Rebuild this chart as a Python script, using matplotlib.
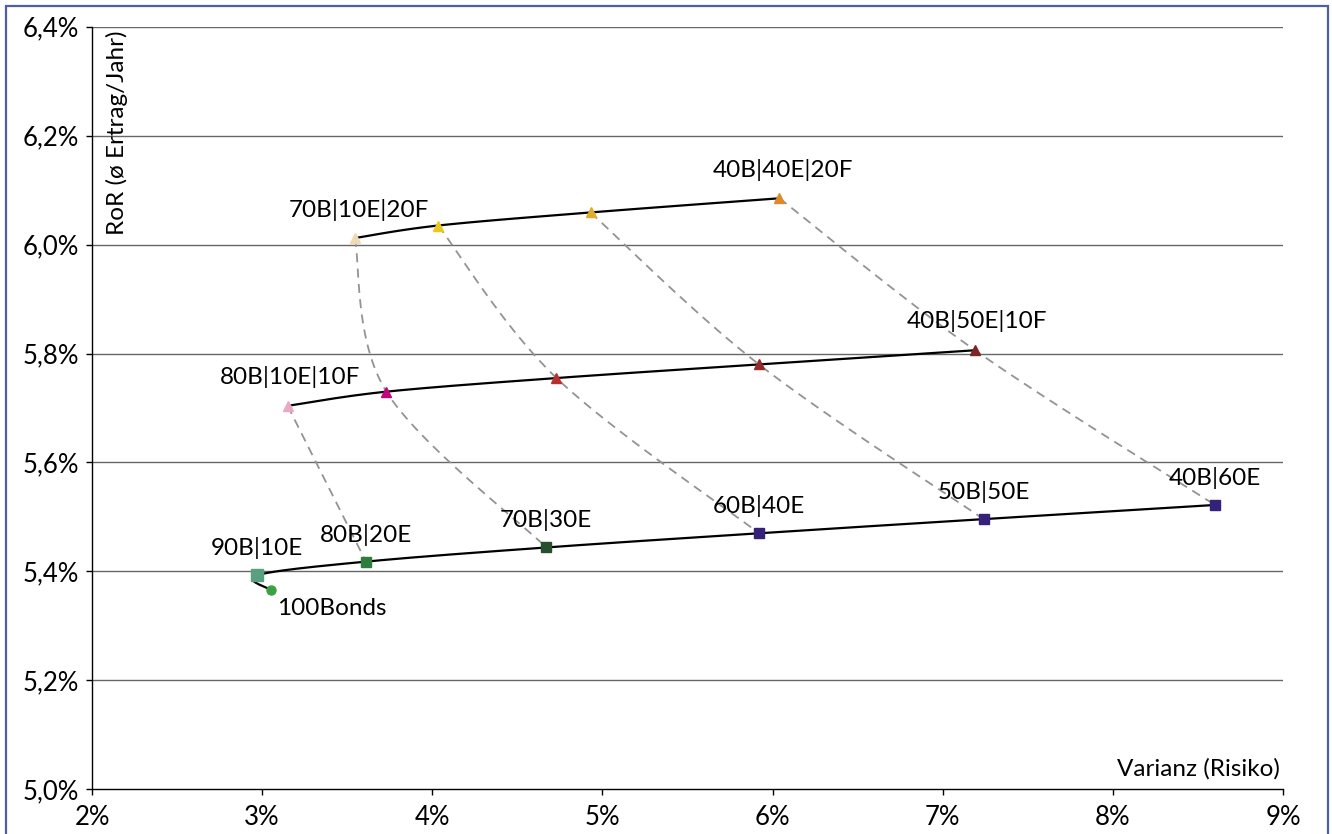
import numpy as np
import matplotlib
matplotlib.use("Agg")
import matplotlib.pyplot as plt
from matplotlib.patches import Rectangle
from matplotlib.ticker import FixedLocator, FuncFormatter

plt.rcParams['font.family'] = ['Lato', 'DejaVu Sans']

# ---- data (x = Varianz %, y = RoR %) ----
bottom_names = ["100Bonds", "90B|10E", "80B|20E", "70B|30E", "60B|40E", "50B|50E", "40B|60E"]
bottom_x = [3.05, 2.97, 3.61, 4.67, 5.92, 7.24, 8.60]
bottom_y = [5.366, 5.393, 5.418, 5.444, 5.470, 5.496, 5.522]
bottom_colors = ["#3da042", "#5aa080", "#2e7d3e", "#264f2c", "#35207a", "#35207a", "#35207a"]

mid_names = ["80B|10E|10F", "", "", "", "40B|50E|10F"]
mid_x = [3.15, 3.73, 4.73, 5.92, 7.19]
mid_y = [5.704, 5.730, 5.755, 5.780, 5.806]
mid_colors = ["#e8a9c4", "#c0047e", "#b8302c", "#962b2b", "#7e2424"]

top_names = ["70B|10E|20F", "", "", "40B|40E|20F"]
top_x = [3.545, 4.035, 4.93, 6.04]
top_y = [6.012, 6.035, 6.059, 6.085]
top_colors = ["#f0d9b5", "#ecc81c", "#e2ac2a", "#dc8a2c"]

# dashed connectors: (top idx or None, mid idx, bottom idx)
connectors = [(None, 0, 2), (0, 1, 3), (1, 2, 4), (2, 3, 5), (3, 4, 6)]

x_ticks = [2, 3, 4, 5, 6, 7, 8, 9]
y_ticks = [5.0, 5.2, 5.4, 5.6, 5.8, 6.0, 6.2, 6.4]

FS = 17.5
TFS = 18.5

W, H = 1332, 834
fig = plt.figure(figsize=(W / 100, H / 100), dpi=100)
ax = fig.add_axes([92 / W, 1 - 789.3 / H, (1283 - 92) / W, (789.3 - 26.7) / H])
ax.set_xlim(2, 9)
ax.set_ylim(5.0, 6.4)

# border
fig.add_artist(Rectangle((6 / W, -0.05), (1328 - 6) / W, 1 - 6 / H + 0.05,
                         transform=fig.transFigure, fill=False,
                         edgecolor="#4e5fa3", lw=1.6, clip_on=False))

for s in ["top", "right"]:
    ax.spines[s].set_visible(False)
for s in ["left", "bottom"]:
    ax.spines[s].set_color("black")
    ax.spines[s].set_linewidth(1.0)

ax.xaxis.set_major_locator(FixedLocator(x_ticks))
ax.yaxis.set_major_locator(FixedLocator(y_ticks))
ax.xaxis.set_major_formatter(FuncFormatter(lambda v, p: f"{v:.0f}%"))
ax.yaxis.set_major_formatter(FuncFormatter(lambda v, p: f"{v:.1f}%".replace(".", ",")))
ax.tick_params(axis="both", direction="out", length=4.5, width=1, labelsize=TFS, colors="black")
ax.tick_params(axis="x", pad=7)
ax.tick_params(axis="y", pad=5)
for yv in y_ticks[1:]:
    ax.axhline(yv, color="#666666", lw=1.0, zorder=0)


def catmull(xs, ys, n=40):
    pts = ax.transData.transform(np.column_stack([xs, ys]))
    P = np.vstack([pts[0], pts, pts[-1]])
    out = []
    for i in range(1, len(P) - 2):
        p0, p1, p2, p3 = P[i - 1], P[i], P[i + 1], P[i + 2]
        c1 = p1 + (p2 - p0) / 6
        c2 = p2 - (p3 - p1) / 6
        t = np.linspace(0, 1, n)[:, None]
        seg = ((1 - t) ** 3) * p1 + 3 * ((1 - t) ** 2) * t * c1 + 3 * (1 - t) * t ** 2 * c2 + t ** 3 * p2
        out.append(seg if i == 1 else seg[1:])
    out = np.vstack(out)
    d = ax.transData.inverted().transform(out)
    return d[:, 0], d[:, 1]


# dashed connectors
for ti, mi, bi in connectors:
    xs, ys = [], []
    if ti is not None:
        xs.append(top_x[ti]); ys.append(top_y[ti])
    xs += [mid_x[mi], bottom_x[bi]]
    ys += [mid_y[mi], bottom_y[bi]]
    cx, cy = catmull(xs, ys)
    ax.plot(cx, cy, color="#939393", lw=1.3, dashes=(5, 3.5), zorder=2)

# smooth curves
for xs, ys in [(bottom_x, bottom_y), (mid_x, mid_y), (top_x, top_y)]:
    cx, cy = catmull(xs, ys)
    ax.plot(cx, cy, color="black", lw=1.6, zorder=3, solid_capstyle="round")

# markers
for i, (x, y, c) in enumerate(zip(bottom_x, bottom_y, bottom_colors)):
    if i == 0:
        ax.plot(x, y, "o", ms=6.5, color=c, mec=c, zorder=5)
    elif i == 1:
        ax.plot(x, y, "s", ms=9.3, color=c, mec=c, zorder=5)
    else:
        ax.plot(x, y, "s", ms=7.7, color=c, mec=c, zorder=5)
for x, y, c in zip(mid_x, mid_y, mid_colors):
    ax.plot(x, y, "^", ms=7, color=c, mec=c, zorder=5)
for x, y, c in zip(top_x, top_y, top_colors):
    ax.plot(x, y, "^", ms=7, color=c, mec=c, zorder=5)

# labels
lab_kw = dict(textcoords="offset pixels", ha="center", va="center", fontsize=FS, zorder=6)
for i, (n, x, y) in enumerate(zip(bottom_names, bottom_x, bottom_y)):
    if i == 0:
        ax.annotate(n, (x, y), xytext=(6, -19), textcoords="offset pixels",
                    ha="left", va="center", fontsize=FS, zorder=6)
    else:
        ax.annotate(n, (x, y), xytext=(0, 27), **lab_kw)
for n, x, y in zip(mid_names, mid_x, mid_y):
    if n:
        ax.annotate(n, (x, y), xytext=(2, 29), **lab_kw)
for n, x, y in zip(top_names, top_x, top_y):
    if n:
        ax.annotate(n, (x, y), xytext=(4, 28), **lab_kw)

# axis titles inside plot
ax.text(117 / W, 1 - 133 / H, "RoR (ø Ertrag/Jahr)", transform=fig.transFigure,
        rotation=90, ha="center", va="center", fontsize=FS)
ax.text(1280 / W, 1 - 769 / H, "Varianz (Risiko)", transform=fig.transFigure,
        ha="right", va="center", fontsize=FS)

fig.savefig("out.png", dpi=100)
